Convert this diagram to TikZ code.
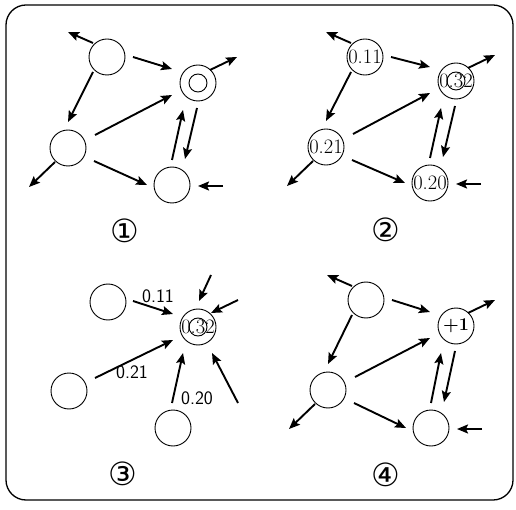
\documentclass[tikz,border=0pt]{standalone}
\usepackage{fontspec}
\newfontfamily\dvs{DejaVu Sans}
\usetikzlibrary{arrows.meta,calc}
\tikzset{
 unit/.style={circle, draw, line width=0.9pt, minimum size=36pt, inner sep=0pt, font=\fontsize{20.5}{20.5}\selectfont},
 innerring/.style={circle, draw, line width=0.9pt, minimum size=18pt, inner sep=0pt},
 arr/.style={line width=1.9pt, -{Stealth[length=11pt,width=9pt,inset=2pt]}},
 elabel/.style={font=\sffamily\fontsize{19}{19}\selectfont, inner sep=0pt},
 tag/.style={font=\dvs\fontsize{32}{32}\selectfont, inner sep=0pt},
 frame/.style={line width=1.3pt, rounded corners=20pt}
}
\newcommand\netarrows[1]{%
 \coordinate (#1ao) at ($(#1a)+(-39,-25)$);
 \coordinate (#1bo) at ($(#1b)+(39,-26)$);
 \coordinate (#1co) at ($(#1c)+(-39,39)$);
 \coordinate (#1di) at ($(#1d)+(51,1)$);
 \draw[arr] ($(#1a)+(-14,-14)$) -- (#1ao);
 \draw[arr] ($(#1a)+(26,0)$) -- ($(#1b)+(-26,-14)$);
 \draw[arr] ($(#1b)+(12,-13)$) -- (#1bo);
 \draw[arr] ($(#1a)+(-14,15)$) -- ($(#1c)+(0,-26)$);
 \draw[arr] ($(#1c)+(27,-13)$) -- ($(#1b)+(-26,12)$);
 \draw[arr] ($(#1c)+(-13,14)$) -- (#1co);
 \draw[arr] ($(#1c)+(26,13)$) -- ($(#1d)+(-25,0)$);
 \draw[arr] ($(#1d)+(0,-25)$) -- ($(#1b)+(-15,27)$);
 \draw[arr] ($(#1b)+(-1,25)$) -- ($(#1d)+(13,-26)$);
 \draw[arr] (#1di) -- ($(#1d)+(26,1)$);
}
\begin{document}
\begin{tikzpicture}[x=1pt,y=-1pt]
\useasboundingbox (0,0) rectangle (516,510);
\draw[frame] (6,5) rectangle (513,500);
% panel 1
\node[unit] (pa) at (107,57) {};
\node[unit] (pb) at (198,83) {};
\node[innerring] (pbi) at (pb) {};
\node[unit] (pc) at (68,148) {};
\node[unit] (pd) at (172,185) {};
\netarrows{p}
\node[tag] (t1) at (125,231) {①};
% panel 2
\node[unit] (qa) at (365,57) {0.11};
\node[unit] (qb) at (456,81) {};
\node[innerring] (qbi) at (qb) {};
\node[font=\fontsize{20.5}{20.5}\selectfont, inner sep=0pt] (qbt) at (qb) {0.32};
\node[unit] (qc) at (326,147) {0.21};
\node[unit] (qd) at (430,183) {0.20};
\netarrows{q}
\node[tag] (t2) at (386,230) {②};
% panel 3
\node[unit] (ra) at (108,302) {};
\node[unit] (rb) at (198,327) {};
\node[innerring] (rbi) at (rb) {};
\node[font=\fontsize{20.5}{20.5}\selectfont, inner sep=0pt] (rbt) at (rb) {0.32};
\node[unit] (rc) at (69,391) {};
\node[unit] (rd) at (173,428) {};
\coordinate (rt) at ($(rb)+(13,-52)$);
\coordinate (rr) at ($(rb)+(40,-27)$);
\coordinate (rl) at ($(rb)+(40,76)$);
\draw[arr] ($(ra)+(25,-1)$) -- ($(rb)+(-25,-13)$);
\draw[arr] ($(rc)+(26,-13)$) -- ($(rb)+(-25,13)$);
\draw[arr] ($(rd)+(-1,-25)$) -- ($(rb)+(-15,26)$);
\draw[arr] (rl) -- ($(rb)+(14,26)$);
\draw[arr] (rt) -- ($(rb)+(1,-26)$);
\draw[arr] (rr) -- ($(rb)+(13,-14)$);
\node[elabel] (l11) at (158,296) {0.11};
\node[elabel] (l21) at (132,372) {0.21};
\node[elabel] (l20) at (197,398) {0.20};
\node[tag] (t3) at (123,474) {③};
% panel 4
\node[unit] (sa) at (366,300) {};
\node[unit, font=\bfseries\fontsize{18}{18}\selectfont] (sb) at (456,326) {+1};
\node[unit] (sc) at (328,390) {};
\node[unit] (sd) at (431,428) {};
\netarrows{s}
\node[tag] (t4) at (386,475) {④};
\end{tikzpicture}
\end{document}
